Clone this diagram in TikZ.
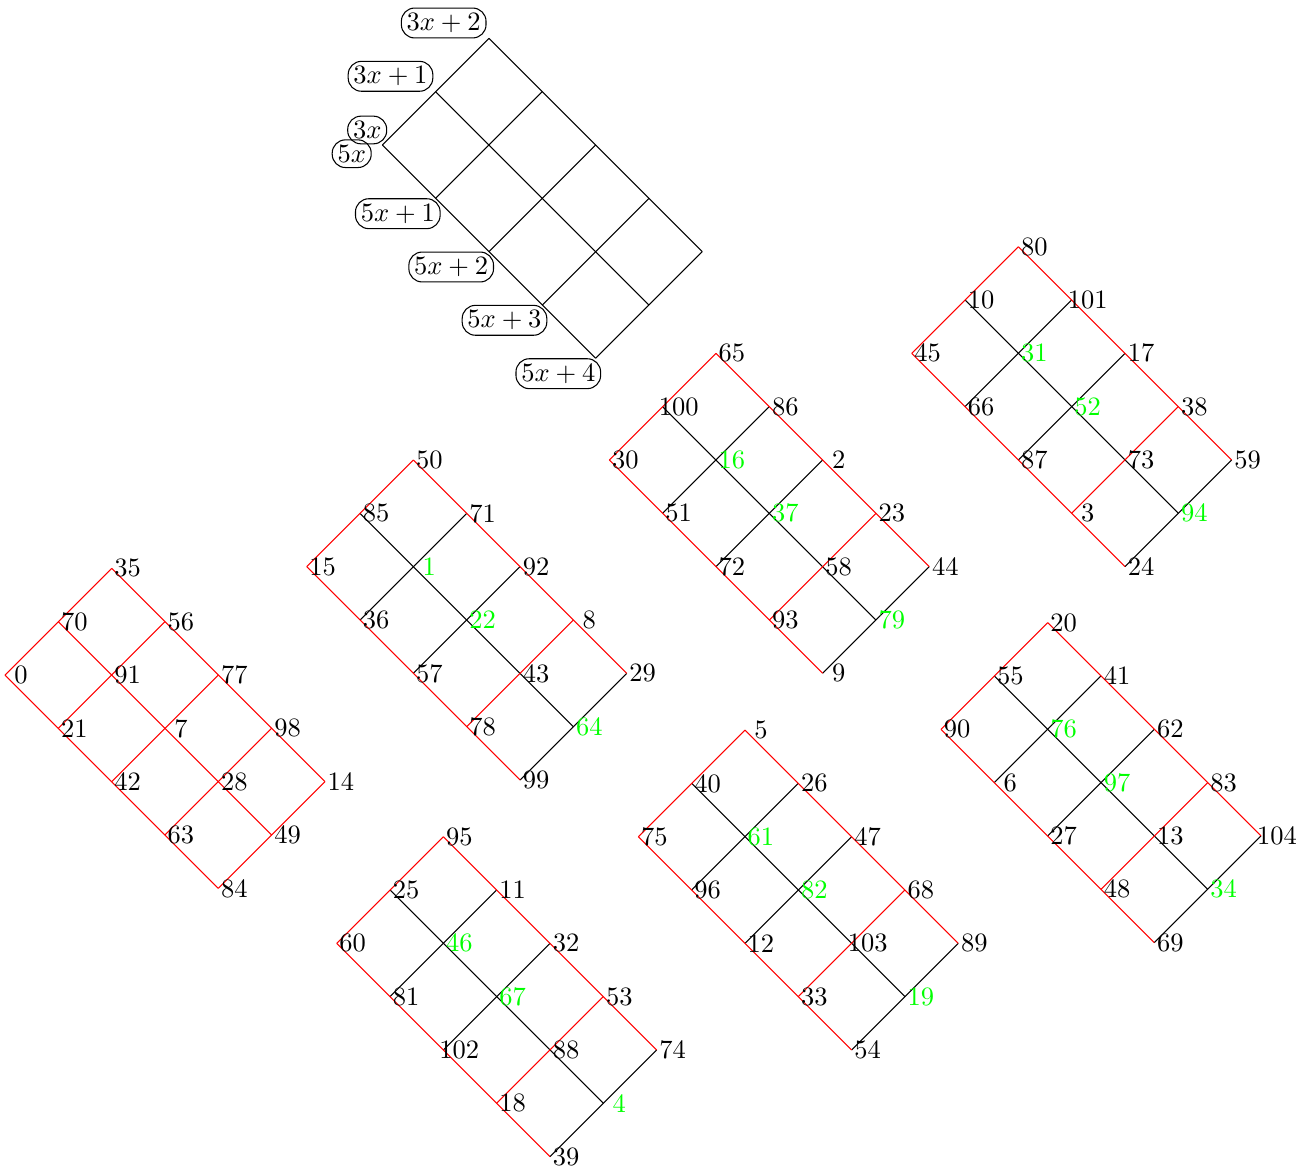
\documentclass[tikz,border=0pt]{standalone}
\begin{document}
\begin{tikzpicture}[x=0.3773pt,y=-0.3773pt,
  blk/.style={draw=black, line width=0.4pt},
  rd/.style={draw=red, line width=0.4pt},
  num/.style={inner sep=1pt},
  lab/.style={draw, rounded corners=5pt, inner sep=2pt, line width=0.4pt}]
\useasboundingbox (0,0) rectangle (1303,1171);
% grid vertex coordinates
\foreach \k/\ox/\oy in {T/382.3/145, 0/5/675, 1/306.7/566.7, 2/609.3/460, 3/911.7/353.3, 4/336.7/943.3, 5/638.3/836.7, 6/941/729.3}{
  \foreach \i in {0,1,2}{
    \foreach \j in {0,...,4}{
      \coordinate (g\k-\i-\j) at ({\ox+53.33*(\i+\j)},{\oy+53.33*(\j-\i)});
    }
  }
}
% top grid (black)
\foreach \i in {0,1,2}{
  \draw[blk] (gT-\i-0) -- (gT-\i-1) -- (gT-\i-2) -- (gT-\i-3) -- (gT-\i-4);
}
\foreach \j in {0,...,4}{
  \draw[blk] (gT-0-\j) -- (gT-1-\j) -- (gT-2-\j);
}
% grid 0 (all red)
\foreach \i in {0,1,2}{
  \draw[rd] (g0-\i-0) -- (g0-\i-1) -- (g0-\i-2) -- (g0-\i-3) -- (g0-\i-4);
}
\foreach \j in {0,...,4}{
  \draw[rd] (g0-0-\j) -- (g0-1-\j) -- (g0-2-\j);
}
% grids 1..6
\foreach \k in {1,...,6}{
  \draw[blk] (g\k-1-0) -- (g\k-1-1) -- (g\k-1-2) -- (g\k-1-3) -- (g\k-1-4);
  \foreach \j in {1,2,4}{
    \draw[blk] (g\k-0-\j) -- (g\k-1-\j) -- (g\k-2-\j);
  }
  \foreach \i in {0,2}{
    \draw[rd] (g\k-\i-0) -- (g\k-\i-1) -- (g\k-\i-2) -- (g\k-\i-3) -- (g\k-\i-4);
  }
  \foreach \j in {0,3}{
    \draw[rd] (g\k-0-\j) -- (g\k-1-\j) -- (g\k-2-\j);
  }
}
% numbers
\foreach \k in {0,...,6}{
  \foreach \i in {0,1,2}{
    \foreach \j in {0,...,4}{
      \pgfmathtruncatemacro\v{mod(70*\i+21*\j+15*\k,105)}
      \pgfmathtruncatemacro\isg{and(and(\k>0,\i==1),and(\j!=0,\j!=3))}
      \ifnum\isg=1 \def\col{green}\else\def\col{black}\fi
      \path (g\k-\i-\j) ++(16,0) node[num,text=\col] (n\k-\i-\j) {\v};
    }
  }
}
% top labels
\node[lab] (l3x2) at (443.7,23) {$3x+2$};
\node[lab] (l3x1) at (390.5,76.3) {$3x+1$};
\node[lab] (l3x) at (367.2,130) {$3x$};
\node[lab] (l5x) at (351.7,153.7) {$5x$};
\node[lab] (l5x1) at (397.8,213.7) {$5x+1$};
\node[lab] (l5x2) at (451.2,267) {$5x+2$};
\node[lab] (l5x3) at (504.5,320.3) {$5x+3$};
\node[lab] (l5x4) at (558.3,373.7) {$5x+4$};
\end{tikzpicture}
\end{document}
